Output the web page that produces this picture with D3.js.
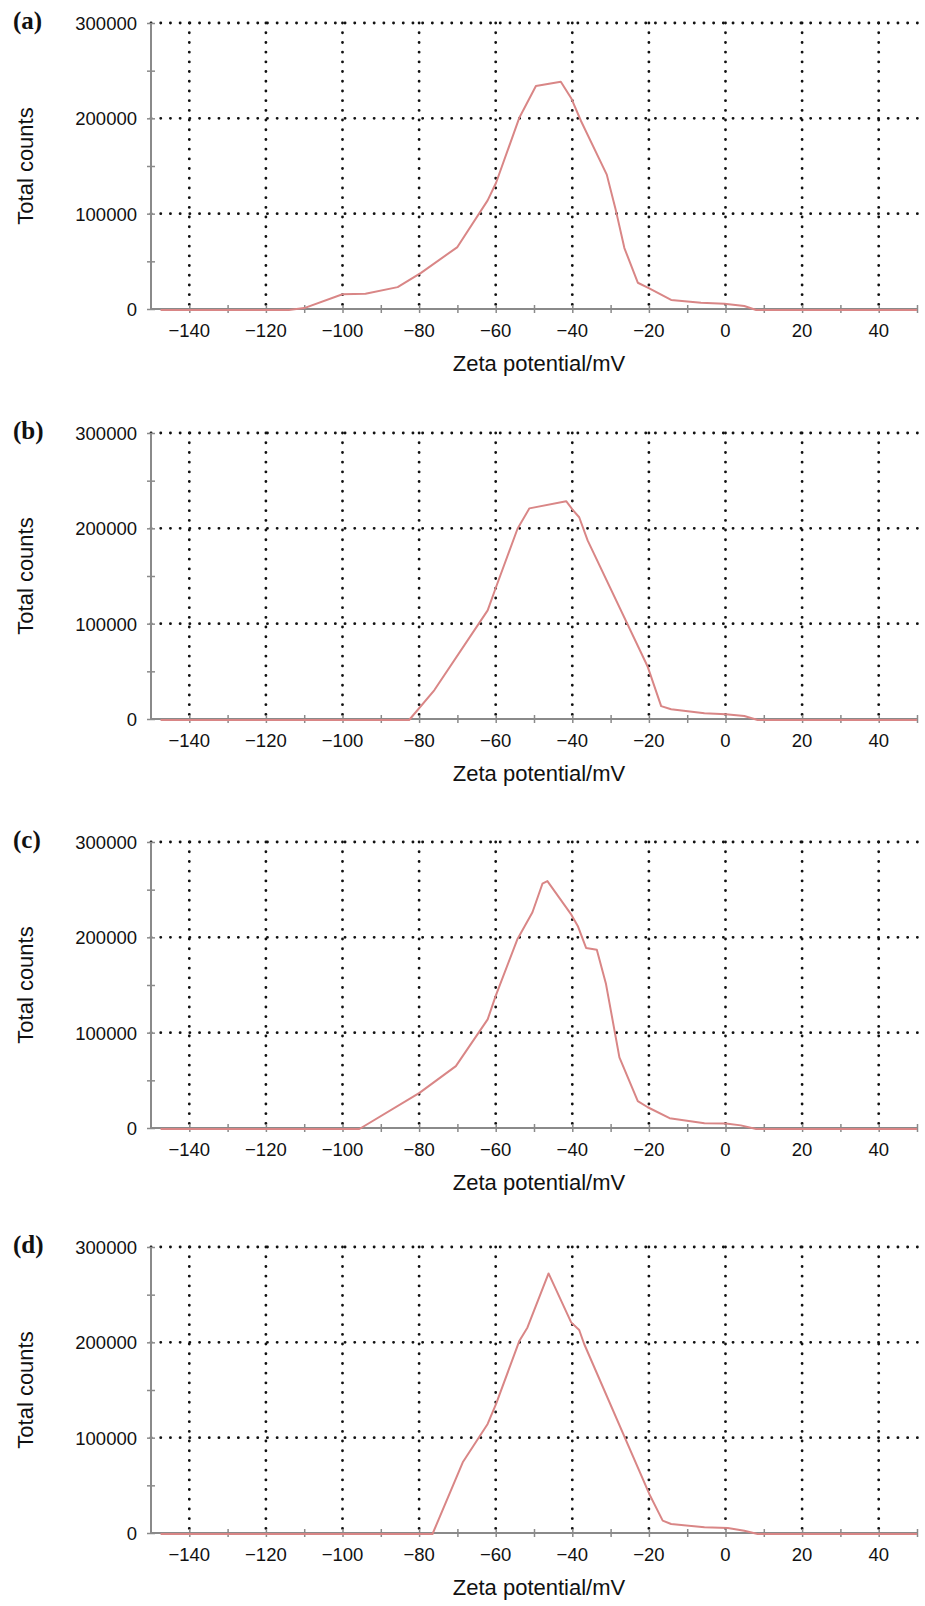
<!DOCTYPE html>
<html>
<head>
<meta charset="utf-8">
<script src="https://cdn.jsdelivr.net/npm/d3@7"></script>
<style>
  body { margin: 0; background: #fff; }
  svg text { font-family: 'Liberation Sans', Arial, sans-serif; }
</style>
</head>
<body>
<script>

// panel labels
var panels = ['(a)', '(b)', '(c)', '(d)'];

// x ticks (mV) and y ticks (counts)
var xMajor = [-140, -120, -100, -80, -60, -40, -20, 0, 20, 40];
var xMinor = [-130, -110, -90, -70, -50, -30, -10, 10, 30, 50];
var yMajor = [0, 100000, 200000, 300000];
var yMinor = [50000, 150000, 250000];

// curves
var zetaA   = [-147.5, -114, -110, -100, -94, -85.6, -79.5, -70, -62.1, -59.9, -53.8, -49.5, -43, -40.2, -37.7, -31, -28.6, -26.4, -22.9, -19.9, -14.2, -6.4, -0.3, 4.9, 8, 50];
var countsA = [0, 0, 2000, 16500, 17000, 24000, 39000, 66000, 115000, 133500, 202000, 235000, 239500, 221500, 198000, 142000, 104000, 65000, 28600, 22700, 10500, 7700, 6600, 4200, 0, 0];

var zetaB   = [-147.5, -82.6, -76, -62.1, -59.9, -54.3, -51.2, -41.6, -39.9, -38.2, -36, -20.3, -16.8, -14.2, -5.5, 0.1, 4.9, 8.4, 50];
var countsB = [0, 0, 31400, 115000, 139500, 200600, 222000, 229500, 220500, 212700, 188400, 55800, 14600, 11200, 7000, 6000, 4200, 0, 0];

var zetaC   = [-147.5, -95.6, -79.9, -70.4, -62.1, -60, -54.3, -50.4, -47.8, -46.5, -40.4, -38.5, -36.4, -33.6, -31.2, -27.7, -22.9, -20.3, -14.6, -5.5, 0.1, 4, 8, 50];
var countsC = [0, 0, 37900, 66000, 115000, 139700, 199400, 227400, 257300, 260000, 225700, 212300, 189900, 188100, 152000, 75200, 29200, 22800, 11300, 6000, 5700, 3800, 0, 0];

var zetaD   = [-147.5, -76.5, -68.6, -62.1, -59.9, -53.8, -51.7, -46.2, -40.3, -38.2, -36.9, -19.9, -16.4, -14.2, -5.5, 0.6, 4.9, 8.4, 50];
var countsD = [0, 0, 75200, 115400, 136400, 202800, 216700, 273300, 222000, 214000, 199300, 42000, 14000, 10500, 7000, 6300, 3500, 0, 0];

var series = [[zetaA, countsA], [zetaB, countsB], [zetaC, countsC], [zetaD, countsD]];

var width = 925,
    height = 1606,
    tops = [23, 433, 842, 1247],
    plotH = 286,
    left = 151,
    right = 917,
    gridRight = 925,
    lineColor = '#d98686',
    axisColor = '#8a8a8a';

var svg = d3.select('body')
    .append('svg')
    .attr('width', width)
    .attr('height', height);

var x = d3.scaleLinear().domain([-150, 50]).range([left, right]);

var drawPanel = function(i) {

    var top = tops[i],
        bottom = top + plotH,
        zeta = series[i][0],
        counts = series[i][1];

    var y = d3.scaleLinear().domain([0, 300000]).range([bottom, top]);

    var g = svg.append('g');

    // dotted grid
    g.selectAll('line.vgrid')
        .data(xMajor)
        .enter()
        .append('line')
        .attr('class', 'vgrid')
        .attr('x1', function(d) { return x(d); })
        .attr('x2', function(d) { return x(d); })
        .attr('y1', top)
        .attr('y2', bottom)
        .attr('stroke', '#111')
        .attr('stroke-width', 2.8)
        .attr('stroke-linecap', 'round')
        .attr('stroke-dasharray', '0.1,9.6');

    g.selectAll('line.hgrid')
        .data(yMajor.slice(1))
        .enter()
        .append('line')
        .attr('class', 'hgrid')
        .attr('x1', left)
        .attr('x2', gridRight)
        .attr('y1', function(d) { return y(d); })
        .attr('y2', function(d) { return y(d); })
        .attr('stroke', '#111')
        .attr('stroke-width', 2.8)
        .attr('stroke-linecap', 'round')
        .attr('stroke-dasharray', '0.1,9.6');

    // axis lines
    g.append('line')
        .attr('x1', left).attr('x2', left)
        .attr('y1', top).attr('y2', bottom)
        .attr('stroke', axisColor)
        .attr('stroke-width', 2);

    g.append('line')
        .attr('x1', left).attr('x2', right)
        .attr('y1', bottom).attr('y2', bottom)
        .attr('stroke', axisColor)
        .attr('stroke-width', 2);

    // x axis ticks and labels
    var xAxis = g.append('g')
        .attr('transform', 'translate(0,' + bottom + ')')
        .call(d3.axisBottom(x).tickValues(xMajor.concat(xMinor)).tickSize(0).tickFormat(''));
    xAxis.select('.domain').remove();
    xAxis.selectAll('.tick line')
        .attr('y1', -4).attr('y2', 4)
        .attr('stroke', axisColor)
        .attr('stroke-width', 1.5);

    g.selectAll('text.xlab')
        .data(xMajor)
        .enter()
        .append('text')
        .attr('class', 'xlab')
        .attr('x', function(d) { return x(d); })
        .attr('y', bottom + 28)
        .attr('text-anchor', 'middle')
        .attr('font-size', '18.5px')
        .attr('fill', '#111')
        .text(function(d) { return d3.format('d')(d); });

    // y axis ticks and labels
    var yAxis = g.append('g')
        .attr('transform', 'translate(' + left + ',0)')
        .call(d3.axisLeft(y).tickValues(yMajor.concat(yMinor)).tickSize(0).tickFormat(''));
    yAxis.select('.domain').remove();
    yAxis.selectAll('.tick line')
        .attr('x1', -4).attr('x2', 4)
        .attr('stroke', axisColor)
        .attr('stroke-width', 1.5);

    g.selectAll('text.ylab')
        .data(yMajor)
        .enter()
        .append('text')
        .attr('class', 'ylab')
        .attr('x', 137)
        .attr('y', function(d) { return y(d) + 7; })
        .attr('text-anchor', 'end')
        .attr('font-size', '18.5px')
        .attr('fill', '#111')
        .text(function(d) { return d3.format('d')(d); });

    // curve
    var line = d3.line()
        .x(function(d, k) { return x(zeta[k]); })
        .y(function(d) { return y(d) + 1; });

    g.append('path')
        .datum(counts)
        .attr('d', line)
        .attr('fill', 'none')
        .attr('stroke', lineColor)
        .attr('stroke-width', 2)
        .attr('stroke-linejoin', 'round');

    // titles
    g.append('text')
        .attr('x', 539)
        .attr('y', bottom + 62)
        .attr('text-anchor', 'middle')
        .attr('font-size', '22px')
        .attr('fill', '#111')
        .text('Zeta potential/mV');

    g.append('text')
        .attr('transform', 'translate(33,' + (top + plotH / 2) + ') rotate(-90)')
        .attr('text-anchor', 'middle')
        .attr('font-size', '22px')
        .attr('fill', '#111')
        .text('Total counts');

    g.append('text')
        .attr('x', 13)
        .attr('y', top + 6)
        .style('font-family', "'Liberation Serif', 'Times New Roman', serif")
        .attr('font-weight', 'bold')
        .attr('font-size', '25px')
        .attr('fill', '#111')
        .text(panels[i]);
};

for (var i = 0; i < panels.length; i++)
    drawPanel(i);

</script>
</body>
</html>
